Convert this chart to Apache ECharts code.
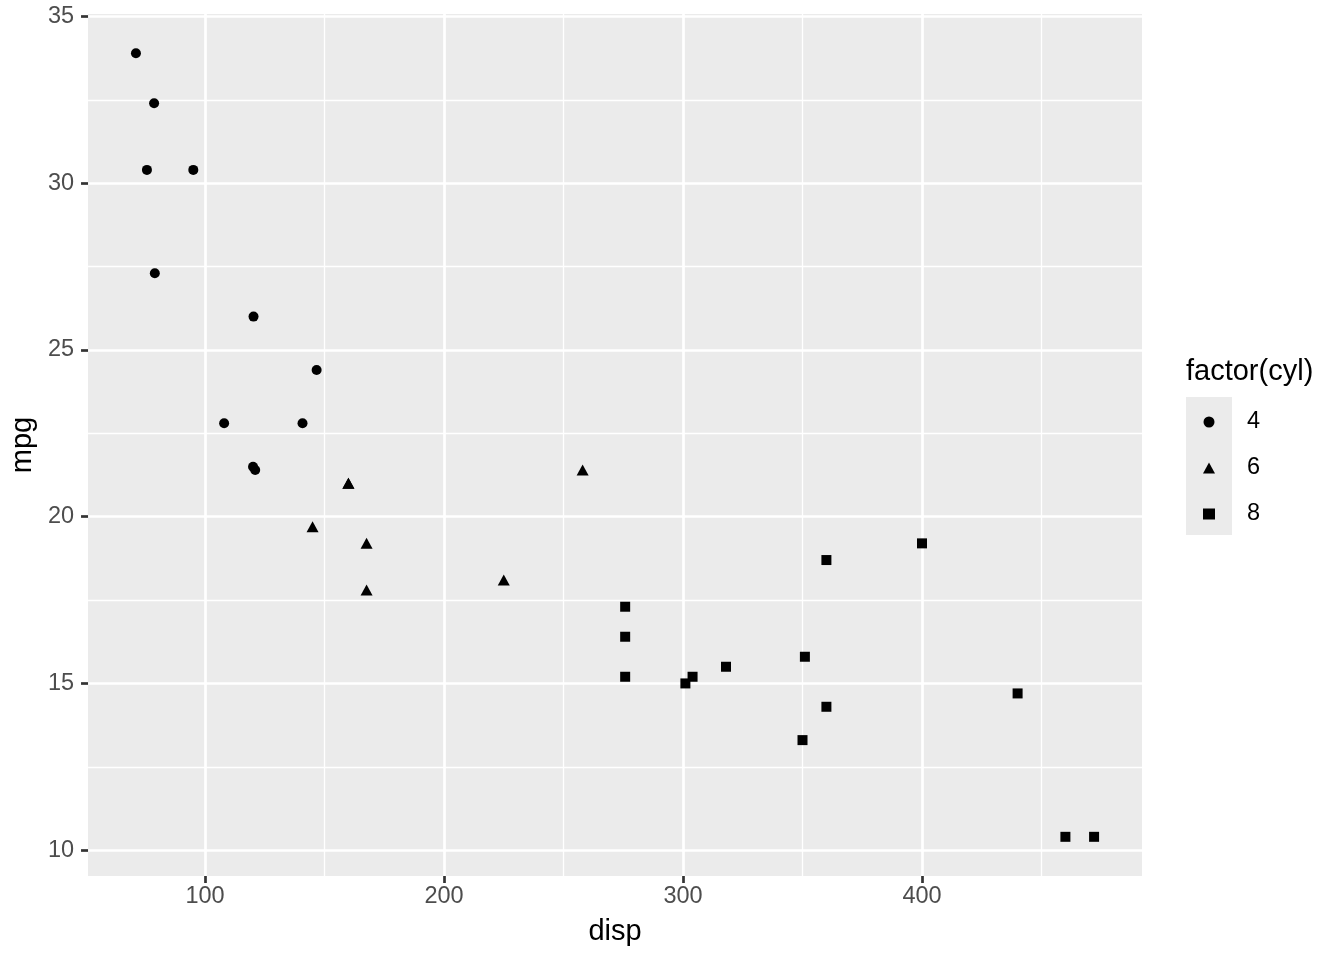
<!DOCTYPE html>
<html>
<head>
<meta charset="utf-8">
<script src="https://cdn.jsdelivr.net/npm/echarts@6/dist/echarts.min.js"></script>
<style>
  html, body { margin: 0; padding: 0; background: #fff; }
  #chart { width: 1344px; height: 960px; }
</style>
</head>
<body>
<div id="chart"></div>
<script>
// mtcars: disp vs mpg, split by cyl
const disp4 = [108, 146.7, 140.8, 78.7, 75.7, 71.1, 120.1, 79, 120.3, 95.1, 121]
const mpg4 = [22.8, 24.4, 22.8, 32.4, 30.4, 33.9, 21.5, 27.3, 26, 30.4, 21.4]
const disp6 = [160, 160, 258, 225, 167.6, 167.6, 145]
const mpg6 = [21, 21, 21.4, 18.1, 19.2, 17.8, 19.7]
const disp8 = [360, 360, 275.8, 275.8, 275.8, 472, 460, 440, 318, 304, 350, 400, 351, 301]
const mpg8 = [18.7, 14.3, 16.4, 17.3, 15.2, 10.4, 10.4, 14.7, 15.5, 15.2, 13.3, 19.2, 15.8, 15]

const cylLevels = ['4', '6', '8']
const xMajor = [100, 200, 300, 400]
const xMinor = [150, 250, 350, 450]
const yMajor = [10, 15, 20, 25, 30, 35]
const yMinor = [12.5, 17.5, 22.5, 27.5, 32.5]

// ggplot-style 5% expansion
const xMin = 51.06, xMax = 492.05
const yMin = 9.225, yMax = 35.075

const FONT = 'Liberation Sans'

function pairs (xs, ys) {
  return xs.map((x, i) => [x, ys[i]])
}

let chart = echarts.init(document.getElementById('chart'))
let option = {
  animation: false,
  textStyle: { fontFamily: FONT },
  title: {
    text: 'factor(cyl)',
    left: 1186,
    top: 357,
    padding: 0,
    textStyle: { fontFamily: FONT, fontSize: 29, fontWeight: 'normal', color: '#000' }
  },
  grid: {
    left: 88,
    right: 202,
    top: 14,
    bottom: 84,
    show: true,
    backgroundColor: '#EBEBEB',
    borderWidth: 0
  },
  graphic: [{
    // legend key background
    type: 'rect',
    left: 1186,
    top: 397,
    shape: { width: 46, height: 138 },
    style: { fill: '#EBEBEB' },
    z: 0
  }],
  legend: {
    orient: 'vertical',
    left: 1203,
    top: 399,
    padding: 0,
    itemGap: 0,
    itemWidth: 12,
    itemHeight: 11,
    data: cylLevels,
    itemStyle: { opacity: 1 },
    textStyle: {
      fontFamily: FONT,
      fontSize: 23.5,
      color: '#000',
      lineHeight: 46,
      padding: [0, 0, 0, 27]
    }
  },
  xAxis: [{
    type: 'value',
    min: xMin,
    max: xMax,
    name: 'disp',
    nameLocation: 'middle',
    nameGap: 41,
    nameTextStyle: { fontFamily: FONT, fontSize: 29, color: '#000' },
    axisLine: { show: false },
    axisTick: { show: true, length: 7, customValues: xMajor, lineStyle: { color: '#333333', width: 2.7 } },
    axisLabel: { customValues: xMajor, margin: 9, fontFamily: FONT, fontSize: 23.5, color: '#4D4D4D' },
    splitLine: { show: true, lineStyle: { color: '#FFFFFF', width: 2.7 } }
  }, {
    type: 'value',
    min: xMin,
    max: xMax,
    axisLine: { show: false },
    axisTick: { show: false, customValues: xMinor },
    axisLabel: { show: false, customValues: xMinor },
    splitLine: { show: true, lineStyle: { color: '#FFFFFF', width: 1.35 } }
  }],
  yAxis: [{
    type: 'value',
    min: yMin,
    max: yMax,
    name: 'mpg',
    nameLocation: 'middle',
    nameGap: 39,
    nameRotate: 90,
    nameTextStyle: { fontFamily: FONT, fontSize: 29, color: '#000' },
    axisLine: { show: false },
    axisTick: { show: true, length: 7, customValues: yMajor, lineStyle: { color: '#333333', width: 2.7 } },
    axisLabel: { customValues: yMajor, margin: 14, fontFamily: FONT, fontSize: 23.5, color: '#4D4D4D' },
    splitLine: { show: true, lineStyle: { color: '#FFFFFF', width: 2.7 } }
  }, {
    type: 'value',
    min: yMin,
    max: yMax,
    axisLine: { show: false },
    axisTick: { show: false, customValues: yMinor },
    axisLabel: { show: false, customValues: yMinor },
    splitLine: { show: true, lineStyle: { color: '#FFFFFF', width: 1.35 } }
  }],
  series: [{
    name: '4',
    type: 'scatter',
    symbol: 'circle',
    symbolSize: 10,
    itemStyle: { color: '#000', opacity: 1 },
    data: pairs(disp4, mpg4)
  }, {
    name: '6',
    type: 'scatter',
    symbol: 'triangle',
    symbolSize: [12, 11],
    itemStyle: { color: '#000', opacity: 1 },
    data: pairs(disp6, mpg6)
  }, {
    name: '8',
    type: 'scatter',
    symbol: 'rect',
    symbolSize: 10,
    itemStyle: { color: '#000', opacity: 1 },
    data: pairs(disp8, mpg8)
  }]
}
chart.setOption(option)
</script>
</body>
</html>
